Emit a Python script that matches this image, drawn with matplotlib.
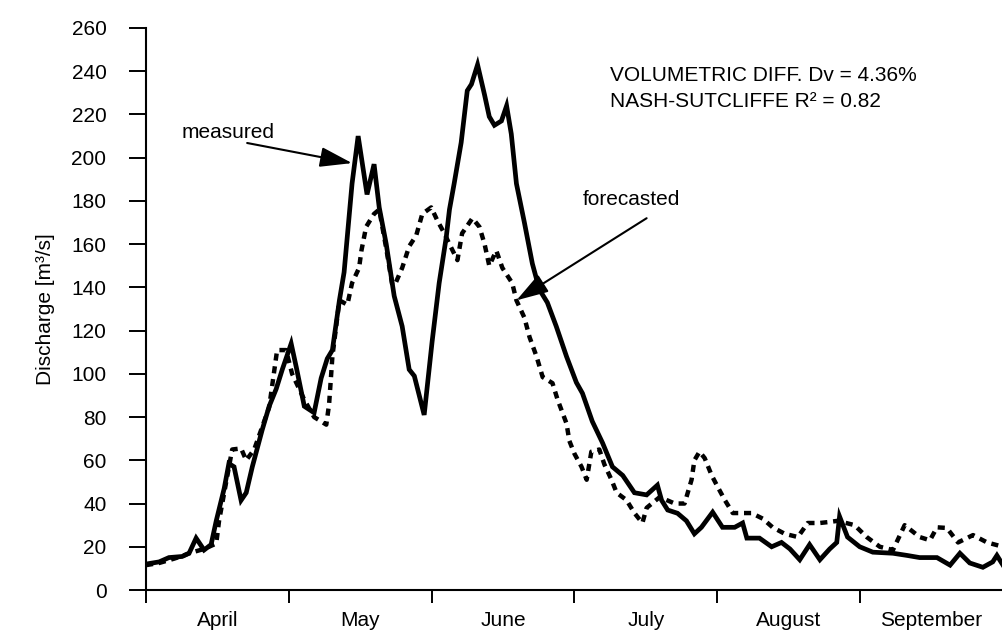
import matplotlib
matplotlib.use("Agg")
import matplotlib.pyplot as plt

plt.rcParams["font.family"] = ["Liberation Sans", "DejaVu Sans"]

# days since 1 April, discharge in m3/s
measured_day = [0.0, 2.8, 4.9, 7.7, 9.2, 10.7, 12.4, 13.9, 15.0, 16.7, 17.7, 18.8, 20.3, 21.4,
                22.7, 24.8, 26.3, 27.8, 29.1, 31.0, 32.1, 33.8, 35.9, 37.4, 38.7, 39.8, 41.3,
                42.3, 44.0, 45.3, 47.2, 48.7, 49.8, 51.3, 53.0, 54.7, 56.2, 57.3, 59.4, 61.1,
                62.6, 64.1, 64.8, 65.8, 67.3, 68.6, 69.5, 70.8, 72.3, 73.3, 74.4, 75.9, 77.0,
                78.0, 79.1, 80.8, 82.5, 84.0, 85.7, 87.6, 89.8, 91.9, 93.2, 95.3, 97.5, 99.6,
                101.8, 104.3, 106.9, 109.2, 110.1, 111.4, 113.5, 115.4, 117.1, 118.6, 121.0,
                123.1, 125.7, 127.4, 128.3, 131.0, 133.6, 135.7, 137.5, 139.6, 141.7, 143.9,
                146.0, 147.5, 148.1, 149.8, 152.4, 155.2, 159.5, 162.5, 165.2, 168.9, 171.7,
                173.8, 175.9, 178.7, 180.8, 181.7, 183.0]
measured_q = [12, 13, 15, 15.5, 17, 24, 18.5, 21, 32, 47, 58.5, 57, 41.5, 45,
              57, 74, 85, 93, 102, 114, 103, 85, 82, 98, 107, 111, 134,
              147, 188, 210, 183, 197, 177, 160, 136, 122, 102, 99, 81, 115,
              142, 163, 176, 188, 207, 231, 234, 243, 229, 219, 215, 217, 224,
              211, 188, 170, 151, 139, 133, 122, 108, 96, 91, 78, 68, 57,
              53, 45, 44, 48.5, 41.5, 37, 35.5, 32, 26, 29, 36,
              29, 29, 31, 24, 24, 20, 22, 19, 14, 21, 14,
              19, 22, 34, 24.5, 20, 17.5, 17, 16, 15, 15, 11.5,
              17, 12.5, 10.5, 13, 16, 11.5]

forecast_day = [0.0, 2.8, 6.0, 8.1, 9.2, 12.4, 15.0, 15.6, 16.7, 18.4, 20.3, 21.4, 23.1,
                26.3, 28.0, 29.9, 31.2, 33.8, 35.9, 37.4, 38.5, 39.1, 39.8, 41.3, 43.0,
                44.0, 45.5, 46.0, 47.0, 48.7, 49.8, 51.3, 52.6, 53.4, 54.7, 56.2, 57.7,
                59.0, 60.9, 62.2, 63.7, 64.8, 66.5, 67.5, 69.7, 71.2, 72.3, 73.3, 74.8,
                76.1, 78.2, 79.1, 80.8, 81.9, 83.4, 84.7, 86.8, 87.9, 89.8, 90.4, 91.5,
                93.0, 94.1, 95.1, 96.8, 97.9, 99.4, 100.5, 102.6, 104.3, 106.0, 106.9,
                109.7, 112.9, 115.0, 116.5, 117.1, 118.2, 119.3, 120.8, 122.1, 123.6,
                125.3, 129.3, 131.7, 133.8, 136.4, 139.2, 141.3, 143.9, 146.0, 147.7,
                151.3, 153.9, 156.7, 159.5, 162.0, 165.2, 167.4, 168.9, 171.0, 173.4,
                176.6, 179.6, 183.0]
forecast_q = [11.5, 12.5, 14.5, 16, 17, 19, 21.5, 32, 45, 65, 65.5, 60, 65,
              84.5, 111, 111, 100, 88, 80, 78, 76.5, 86, 108, 134, 132,
              142, 149, 157, 168, 174, 176, 158, 141, 142.5, 149, 159, 164,
              174, 177, 171, 165, 160, 152.6, 165, 172, 168, 160, 150, 157,
              149, 142, 134, 126, 117, 108, 98.5, 95.7, 88, 77, 69, 63,
              57, 51, 64, 65, 58, 51, 45, 41.6, 35.6, 31, 38,
              43, 40, 40, 51, 60, 64, 61, 53, 47.6, 41.6,
              35.6, 35.6, 33, 29, 26, 24.5, 31, 31, 31.5, 32,
              30, 24.5, 20, 18.5, 30, 24.5, 23, 29, 28.7, 22,
              25.4, 22, 20]

months = ["April", "May", "June", "July", "August", "September"]
month_len = 30.5
FS = 15

fig = plt.figure(figsize=(10.03, 6.37), dpi=100)
ax = fig.add_axes([146 / 1003, 47 / 637, 857 / 1003, 562 / 637])

ax.plot(measured_day, measured_q, color="black", lw=3.4, solid_joinstyle="miter")
ax.plot(forecast_day, forecast_q, color="black", lw=3.2,
        linestyle=(0, (1.6, 1.3)), dash_capstyle="butt")

ax.set_xlim(0, 183)
ax.set_ylim(0, 260)
ax.set_yticks(range(0, 261, 20))
ax.set_xticks([i * month_len for i in range(6)])
ax.set_xticklabels([])
ax.set_xticks([(i + 0.5) * month_len for i in range(6)], minor=True)
ax.set_xticklabels(months, minor=True)

ax.tick_params(axis="y", length=12.5, width=1.4, pad=16, labelsize=FS)
ax.tick_params(axis="x", which="major", length=9, width=1.4)
ax.tick_params(axis="x", which="minor", length=0, pad=15, labelsize=FS)

for s in ["top", "right"]:
    ax.spines[s].set_visible(False)
for s in ["left", "bottom"]:
    ax.spines[s].set_linewidth(1.5)

ax.set_ylabel("Discharge [m³/s]", fontsize=FS, labelpad=12)

arrow = dict(arrowstyle="-|>,head_length=0.9,head_width=0.28", color="black",
             lw=1.5, mutation_scale=22, shrinkA=0, shrinkB=0)
ax.annotate("", xy=(44.0, 197.5), xytext=(21.6, 206.8), arrowprops=arrow)
ax.annotate("", xy=(79.1, 134), xytext=(106.9, 172), arrowprops=arrow)
ax.text(7.5, 211.5, "measured", fontsize=FS, va="center", ha="left")
ax.text(93.2, 180.5, "forecasted", fontsize=FS, va="center", ha="left")

ax.text(99.0, 238, "VOLUMETRIC DIFF. Dv = 4.36%", fontsize=FS, va="center", ha="left")
ax.text(99.0, 226, "NASH-SUTCLIFFE R² = 0.82", fontsize=FS, va="center", ha="left")

fig.savefig("out.png", dpi=100)
